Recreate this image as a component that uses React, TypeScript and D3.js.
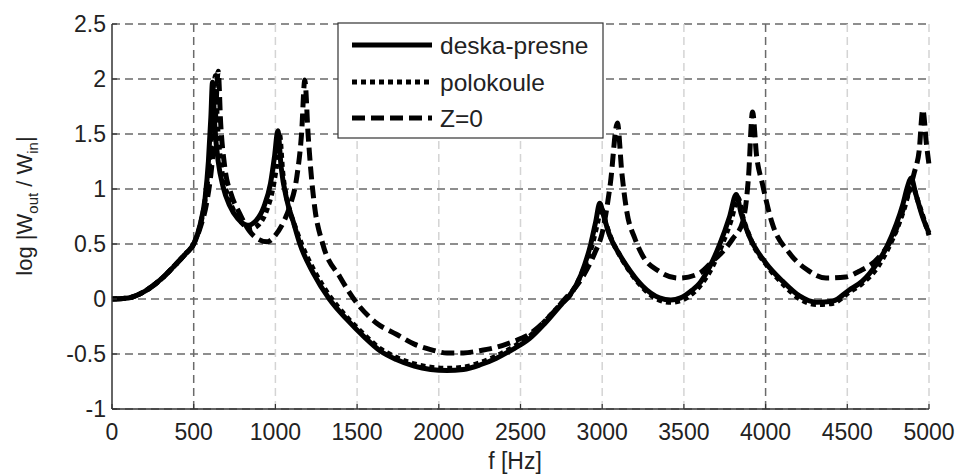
import React from "react";
import * as d3 from "d3";

// ---- data ----
const xTicks = [0, 500, 1000, 1500, 2000, 2500, 3000, 3500, 4000, 4500, 5000];
const yTicks = [-1, -0.5, 0, 0.5, 1, 1.5, 2, 2.5];
const yTickLabels = ["-1", "-0.5", "0", "0.5", "1", "1.5", "2", "2.5"];
const seriesNames = ["deska-presne", "polokoule", "Z=0"];

const deskaPresne: [number, number][] = [
  [0, 0], [100, 0.01], [200, 0.07], [300, 0.18], [400, 0.33], [450, 0.41], [500, 0.5],
  [540, 0.68], [570, 0.92], [590, 1.25], [605, 1.65], [615, 1.97], [630, 1.55], [650, 1.25],
  [680, 1.02], [720, 0.85], [770, 0.73], [830, 0.67], [880, 0.71], [930, 0.84], [970, 1.05],
  [995, 1.3], [1015, 1.53], [1035, 1.2], [1070, 0.9], [1110, 0.7], [1150, 0.5], [1230, 0.24],
  [1330, 0.0], [1440, -0.19], [1540, -0.34], [1640, -0.47], [1740, -0.55], [1850, -0.61],
  [1950, -0.64], [2050, -0.65], [2150, -0.64], [2250, -0.6], [2350, -0.54], [2450, -0.46],
  [2555, -0.36], [2650, -0.22], [2750, -0.05], [2800, 0.03], [2870, 0.22], [2930, 0.5],
  [2960, 0.7], [2985, 0.87], [3010, 0.75], [3045, 0.58], [3100, 0.42], [3150, 0.3],
  [3245, 0.12], [3350, 0.01], [3420, -0.01], [3480, 0.01], [3550, 0.08], [3600, 0.15],
  [3660, 0.3], [3720, 0.5], [3780, 0.75], [3820, 0.95], [3850, 0.78], [3900, 0.57],
  [4000, 0.33], [4105, 0.16], [4205, 0.03], [4310, -0.03], [4410, -0.02], [4510, 0.08],
  [4590, 0.16], [4680, 0.32], [4740, 0.47], [4800, 0.68], [4840, 0.86], [4870, 1.03],
  [4890, 1.1], [4920, 0.95], [4960, 0.75], [5000, 0.6],
];

const polokoule: [number, number][] = [
  [0, 0], [100, 0.01], [200, 0.07], [300, 0.18], [400, 0.33], [450, 0.41], [500, 0.5],
  [540, 0.67], [570, 0.9], [600, 1.3], [620, 1.75], [632, 2.03], [645, 1.6], [665, 1.25],
  [700, 0.98], [740, 0.82], [790, 0.7], [850, 0.64], [900, 0.68], [950, 0.82], [990, 1.05],
  [1010, 1.25], [1025, 1.5], [1045, 1.15], [1080, 0.85], [1120, 0.66], [1160, 0.5],
  [1240, 0.25], [1340, 0.01], [1440, -0.17], [1540, -0.32], [1640, -0.45], [1740, -0.53],
  [1850, -0.59], [1950, -0.62], [2050, -0.63], [2150, -0.62], [2250, -0.58], [2350, -0.52],
  [2450, -0.44], [2555, -0.34], [2650, -0.2], [2750, -0.04], [2810, 0.05], [2880, 0.25],
  [2940, 0.5], [2970, 0.68], [2995, 0.83], [3020, 0.7], [3055, 0.55], [3110, 0.39],
  [3160, 0.27], [3250, 0.1], [3350, -0.01], [3420, -0.03], [3490, -0.01], [3560, 0.06],
  [3610, 0.14], [3670, 0.28], [3730, 0.48], [3790, 0.72], [3832, 0.92], [3860, 0.75],
  [3910, 0.54], [4010, 0.3], [4110, 0.13], [4210, 0.0], [4310, -0.05], [4410, -0.04],
  [4510, 0.06], [4590, 0.14], [4690, 0.3], [4750, 0.46], [4810, 0.66], [4850, 0.83],
  [4880, 0.98], [4900, 1.02], [4930, 0.9], [4970, 0.72], [5000, 0.58],
];

const zNula: [number, number][] = [
  [0, 0], [100, 0.01], [200, 0.07], [300, 0.18], [400, 0.33], [450, 0.41], [500, 0.5],
  [540, 0.65], [580, 0.88], [610, 1.2], [630, 1.55], [650, 2.07], [665, 1.6], [690, 1.2],
  [730, 0.95], [780, 0.78], [840, 0.62], [900, 0.54], [950, 0.52], [1000, 0.58],
  [1050, 0.7], [1090, 0.85], [1130, 1.1], [1160, 1.5], [1180, 1.99], [1200, 1.5],
  [1215, 1.2], [1240, 0.84], [1290, 0.5], [1395, 0.2], [1500, -0.04], [1620, -0.22],
  [1740, -0.32], [1850, -0.41], [1950, -0.46], [2050, -0.49], [2150, -0.49], [2250, -0.47],
  [2350, -0.44], [2450, -0.39], [2555, -0.32], [2650, -0.2], [2760, -0.02], [2880, 0.2],
  [2955, 0.42], [3000, 0.6], [3050, 1.05], [3093, 1.6], [3120, 1.15], [3150, 0.8],
  [3200, 0.55], [3245, 0.4], [3350, 0.25], [3470, 0.19], [3590, 0.23], [3680, 0.35],
  [3750, 0.45], [3800, 0.55], [3860, 0.7], [3895, 1.1], [3920, 1.7], [3945, 1.3],
  [3980, 1.05], [4040, 0.69], [4144, 0.42], [4250, 0.27], [4370, 0.19], [4490, 0.2],
  [4570, 0.25], [4694, 0.38], [4796, 0.62], [4860, 0.9], [4910, 1.15], [4940, 1.35],
  [4962, 1.72], [4985, 1.4], [5000, 1.22],
];

// ---- layout ----
const W = 959;
const H = 475;
const left = 112;
const right = 929;
const top = 24;
const bottom = 409;
const FONT = "'Liberation Sans', Arial, sans-serif";

export default function App() {
  const x = d3.scaleLinear().domain([0, 5000]).range([left, right]);
  const y = d3.scaleLinear().domain([-1, 2.5]).range([bottom, top]);
  const line = d3
    .line<[number, number]>()
    .x((d) => x(d[0]))
    .y((d) => y(d[1]))
    .curve(d3.curveMonotoneX);

  const series = [
    { name: seriesNames[0], data: deskaPresne, dash: "none" },
    { name: seriesNames[1], data: polokoule, dash: "5,4" },
    { name: seriesNames[2], data: zNula, dash: "13,6" },
  ];

  const legendX = 338;
  const legendY = 23;
  const legendW = 265;
  const legendH = 115;
  const rowY = [45, 82, 118];

  return (
    <svg
      width={W}
      height={H}
      style={{ position: "absolute", left: 0, top: 0, background: "#fff" }}
      fontFamily={FONT}
    >
      <rect x={0} y={0} width={W} height={H} fill="#fff" />
      {/* grid */}
      {yTicks.map((t) => (
        <line
          key={"gy" + t}
          x1={left}
          x2={right}
          y1={y(t)}
          y2={y(t)}
          stroke="#6a6a6a"
          strokeWidth={1.5}
          strokeDasharray="8,5"
        />
      ))}
      {xTicks.slice(1).map((t) => (
        <line
          key={"gx" + t}
          x1={x(t)}
          x2={x(t)}
          y1={top}
          y2={bottom}
          stroke={t === 500 || t === 4000 ? "#6a6a6a" : "#d4d4d4"}
          strokeWidth={1.5}
          strokeDasharray="8,5"
        />
      ))}
      {/* curves */}
      {series
        .slice()
        .reverse()
        .map((s) => (
          <path
            key={s.name}
            d={line(s.data) || ""}
            fill="none"
            stroke="#000"
            strokeWidth={5}
            strokeDasharray={s.dash}
            strokeLinejoin="round"
          />
        ))}
      {/* axes */}
      <line x1={left} x2={left} y1={top} y2={bottom} stroke="#333" strokeWidth={1.5} />
      <line x1={left} x2={right} y1={bottom} y2={bottom} stroke="#333" strokeWidth={1.5} />
      {yTicks.map((t) => (
        <line key={"ty" + t} x1={left} x2={left + 5} y1={y(t)} y2={y(t)} stroke="#333" strokeWidth={1.2} />
      ))}
      {xTicks.map((t) => (
        <line key={"tx" + t} x1={x(t)} x2={x(t)} y1={bottom} y2={bottom - 5} stroke="#333" strokeWidth={1.2} />
      ))}
      {/* tick labels */}
      {yTicks.map((t, i) => (
        <text
          key={"ly" + t}
          x={106}
          y={y(t) + 8}
          textAnchor="end"
          fontSize={23}
          fill="#222"
        >
          {yTickLabels[i]}
        </text>
      ))}
      {xTicks.map((t) => (
        <text key={"lx" + t} x={x(t)} y={440} textAnchor="middle" fontSize={23} fill="#222">
          {String(t)}
        </text>
      ))}
      {/* axis titles */}
      <text x={515} y={469} textAnchor="middle" fontSize={23} fill="#222">
        f [Hz]
      </text>
      <text
        transform="translate(32,206) rotate(-90)"
        textAnchor="middle"
        fontSize={22}
        fill="#222"
      >
        log |W
        <tspan dy={6} fontSize={15}>out</tspan>
        <tspan dy={-6}> / W</tspan>
        <tspan dy={6} fontSize={15}>in</tspan>
        <tspan dy={-6}>|</tspan>
      </text>
      {/* legend */}
      <rect
        x={legendX}
        y={legendY}
        width={legendW}
        height={legendH}
        fill="#fff"
        stroke="#333"
        strokeWidth={1.2}
      />
      {series.map((s, i) => (
        <g key={"leg" + s.name}>
          <line
            x1={352}
            x2={432}
            y1={rowY[i]}
            y2={rowY[i]}
            stroke="#000"
            strokeWidth={5}
            strokeDasharray={s.dash}
          />
          <text x={440} y={rowY[i] + 8.5} fontSize={24.5} fill="#222">
            {s.name}
          </text>
        </g>
      ))}
    </svg>
  );
}
